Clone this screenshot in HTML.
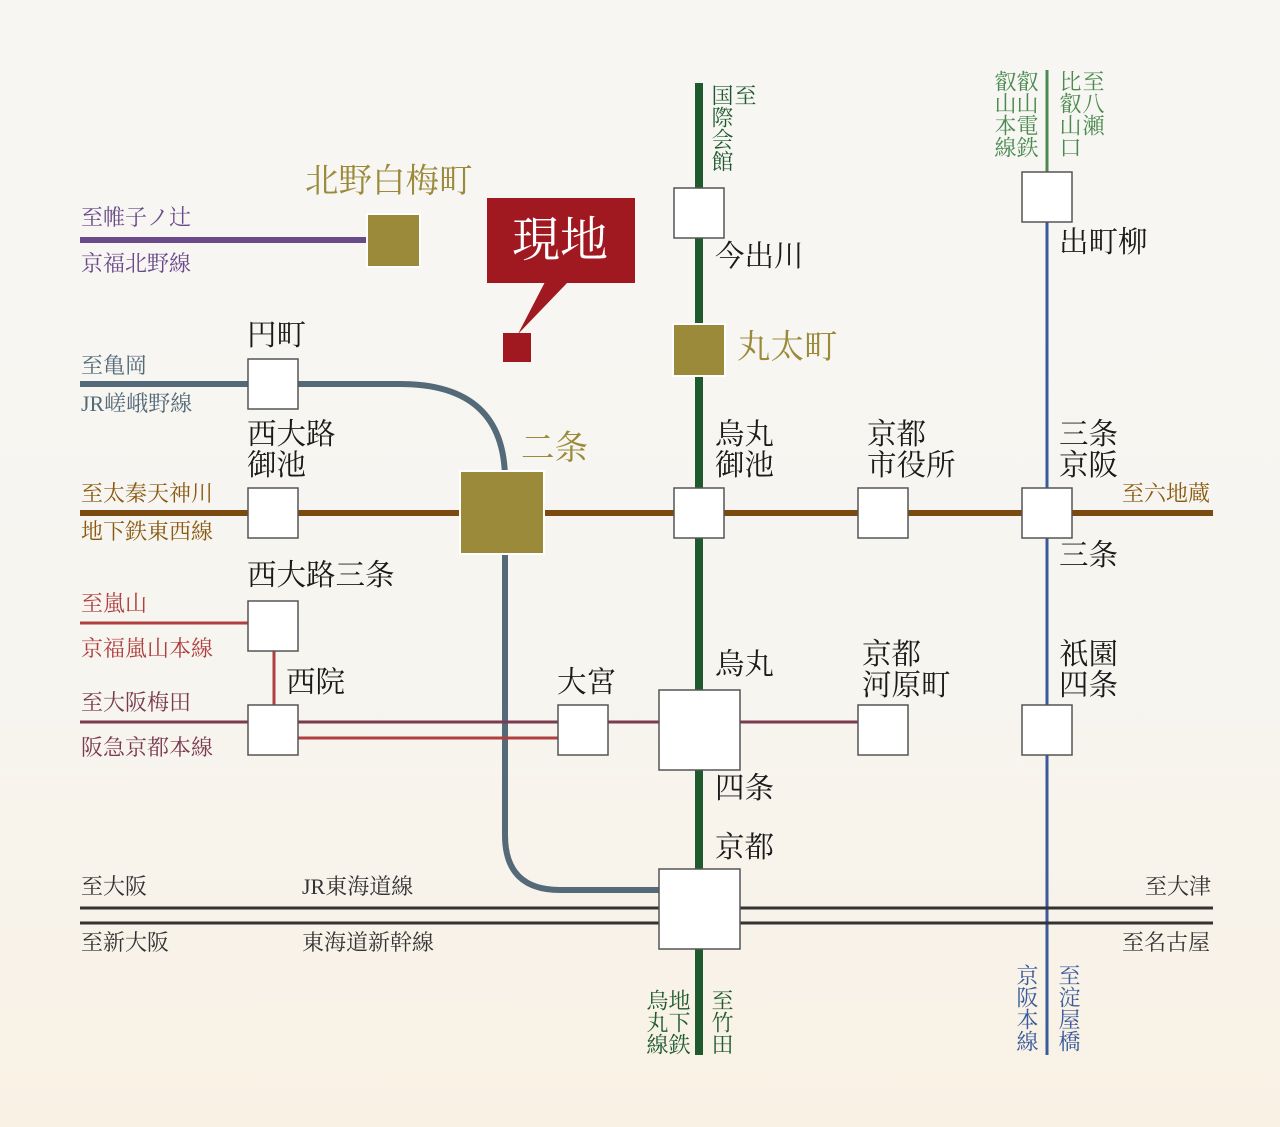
<!DOCTYPE html>
<html><head><meta charset="utf-8"><style>
html,body{margin:0;padding:0}
body{width:1280px;height:1127px;position:relative;overflow:hidden;background:linear-gradient(#f7f6f3 0%,#f7f5f0 60%,#f9f1e4 100%);font-family:"Liberation Serif","Noto Serif CJK SC",serif}
.t{position:absolute;white-space:nowrap;line-height:1}
.s{font-size:22px}
.b{font-size:29.5px;color:#1a1a1a}
.v{writing-mode:vertical-rl;font-size:22px;line-height:1}
</style></head><body>
<svg width="1280" height="1127" style="position:absolute;left:0;top:0">
<g fill="none">
<line x1="80" y1="240" x2="368" y2="240" stroke="#6b4a8a" stroke-width="6"/>
<path d="M80 384 H400 Q505 384 505 480" stroke="#546a78" stroke-width="6"/>
<path d="M505 545 V835 Q505 890 560 890 H660" stroke="#546a78" stroke-width="6"/>
<line x1="80" y1="513" x2="1213" y2="513" stroke="#7a4a10" stroke-width="6"/>
<line x1="1047" y1="70" x2="1047" y2="172" stroke="#4a8a50" stroke-width="3"/>
<line x1="1047" y1="222" x2="1047" y2="1055" stroke="#3a5a9a" stroke-width="3"/>
<line x1="699" y1="83" x2="699" y2="1055" stroke="#1e5a2e" stroke-width="8"/>
<line x1="80" y1="623" x2="248" y2="623" stroke="#b04040" stroke-width="3"/>
<line x1="274" y1="650" x2="274" y2="706" stroke="#b04040" stroke-width="3"/>
<line x1="80" y1="722" x2="858" y2="722" stroke="#7a3a50" stroke-width="3"/>
<line x1="298" y1="738" x2="558" y2="738" stroke="#b04040" stroke-width="3"/>
<line x1="80" y1="908" x2="1213" y2="908" stroke="#333" stroke-width="3"/>
<line x1="80" y1="923" x2="1213" y2="923" stroke="#333" stroke-width="3"/>
</g>
<g fill="#fff" stroke="#555" stroke-width="1.5">
<rect x="248" y="359" width="50" height="50"/>
<rect x="248" y="488" width="50" height="50"/>
<rect x="674" y="188" width="50" height="50"/>
<rect x="674" y="488" width="50" height="50"/>
<rect x="858" y="488" width="50" height="50"/>
<rect x="1022" y="488" width="50" height="50"/>
<rect x="1022" y="172" width="50" height="50"/>
<rect x="248" y="601" width="50" height="50"/>
<rect x="248" y="705" width="50" height="50"/>
<rect x="558" y="705" width="50" height="50"/>
<rect x="659" y="690" width="81" height="80"/>
<rect x="858" y="705" width="50" height="50"/>
<rect x="1022" y="705" width="50" height="50"/>
<rect x="659" y="869" width="81" height="80"/>
</g>
<g fill="#9a8a3a" stroke="#fff" stroke-width="2">
<rect x="367" y="214" width="53" height="53"/>
<rect x="460" y="471" width="84" height="83"/>
<rect x="673" y="324" width="52" height="52"/>
</g>
<rect x="487" y="198" width="148" height="85" fill="#a01820"/>
<polygon points="545,282 568,282 518,334" fill="#a01820"/>
<rect x="503" y="333" width="28" height="29" fill="#a01820"/>
</svg>
<div class="t" style="left:512px;top:217px;font-size:48px;color:#fff">現地</div>

<div class="t" style="left:305px;top:165px;font-size:33.5px;color:#9a8a3a">北野白梅町</div>
<div class="t" style="left:737px;top:331px;font-size:33.5px;color:#9a8a3a">丸太町</div>
<div class="t" style="left:521px;top:432px;font-size:33.5px;color:#9a8a3a">二条</div>

<div class="t s" style="left:81px;top:207px;color:#6b4a8a">至帷子ノ辻</div>
<div class="t s" style="left:81px;top:253px;color:#6b4a8a">京福北野線</div>
<div class="t s" style="left:81px;top:355px;color:#546a78">至亀岡</div>
<div class="t s" style="left:81px;top:393px;color:#546a78">JR嵯峨野線</div>
<div class="t s" style="left:81px;top:483px;color:#8a5a10">至太秦天神川</div>
<div class="t s" style="left:81px;top:521px;color:#8a5a10">地下鉄東西線</div>
<div class="t s" style="left:1122px;top:483px;color:#8a5a10">至六地蔵</div>
<div class="t s" style="left:81px;top:593px;color:#b04040">至嵐山</div>
<div class="t s" style="left:81px;top:638px;color:#b04040">京福嵐山本線</div>
<div class="t s" style="left:81px;top:692px;color:#7a3a50">至大阪梅田</div>
<div class="t s" style="left:81px;top:737px;color:#7a3a50">阪急京都本線</div>
<div class="t s" style="left:81px;top:876px;color:#333">至大阪</div>
<div class="t s" style="left:302px;top:876px;color:#333">JR東海道線</div>
<div class="t s" style="left:1145px;top:876px;color:#333">至大津</div>
<div class="t s" style="left:81px;top:932px;color:#333">至新大阪</div>
<div class="t s" style="left:302px;top:932px;color:#333">東海道新幹線</div>
<div class="t s" style="left:1122px;top:932px;color:#333">至名古屋</div>

<div class="t b" style="left:247px;top:322px">円町</div>
<div class="t b" style="left:247px;top:420px;line-height:31px">西大路<br>御池</div>
<div class="t b" style="left:247px;top:562px">西大路三条</div>
<div class="t b" style="left:286px;top:669px">西院</div>
<div class="t b" style="left:557px;top:669px">大宮</div>
<div class="t b" style="left:715px;top:243px">今出川</div>
<div class="t b" style="left:715px;top:420px;line-height:31px">烏丸<br>御池</div>
<div class="t b" style="left:867px;top:420px;line-height:31px">京都<br>市役所</div>
<div class="t b" style="left:1059px;top:420px;line-height:31px">三条<br>京阪</div>
<div class="t b" style="left:1059px;top:542px">三条</div>
<div class="t b" style="left:1059px;top:229px">出町柳</div>
<div class="t b" style="left:715px;top:651px">烏丸</div>
<div class="t b" style="left:715px;top:775px">四条</div>
<div class="t b" style="left:715px;top:834px">京都</div>
<div class="t b" style="left:862px;top:640px;line-height:31px">京都<br>河原町</div>
<div class="t b" style="left:1059px;top:640px;line-height:31px">祇園<br>四条</div>

<div class="t v" style="left:710px;top:84px;color:#1e5a2e">国際会館</div>
<div class="t v" style="left:733px;top:84px;color:#1e5a2e">至</div>
<div class="t v" style="left:993px;top:70px;color:#4a8a50">叡山本線</div>
<div class="t v" style="left:1015px;top:70px;color:#4a8a50">叡山電鉄</div>
<div class="t v" style="left:1058px;top:70px;color:#4a8a50">比叡山口</div>
<div class="t v" style="left:1081px;top:70px;color:#4a8a50">至八瀬</div>
<div class="t v" style="left:645px;top:989px;color:#1e5a2e">烏丸線</div>
<div class="t v" style="left:667px;top:989px;color:#1e5a2e">地下鉄</div>
<div class="t v" style="left:710px;top:989px;color:#1e5a2e">至竹田</div>
<div class="t v" style="left:1015px;top:964px;color:#3a5a9a">京阪本線</div>
<div class="t v" style="left:1057px;top:964px;color:#3a5a9a">至淀屋橋</div>
</body></html>
